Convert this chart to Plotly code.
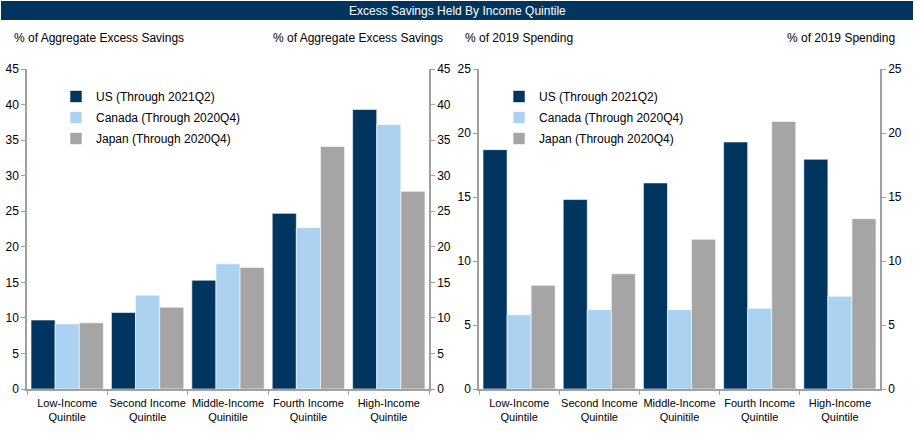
import plotly.graph_objects as go

# quintile categories (labels as printed on the chart)
categories = ['Low-Income<br>Quintile', 'Second Income<br>Quintile', 'Middle-Income<br>Quinitile',
              'Fourth Income<br>Quintile', 'High-Income<br>Quintile']

# left panel: % of aggregate excess savings
us_share = [9.7, 10.75, 15.3, 24.7, 39.3]
canada_share = [9.15, 13.2, 17.6, 22.7, 37.2]
japan_share = [9.3, 11.5, 17.1, 34.1, 27.8]

# right panel: % of 2019 spending
us_spend = [18.7, 14.8, 16.1, 19.3, 17.95]
canada_spend = [5.8, 6.2, 6.2, 6.3, 7.25]
japan_spend = [8.1, 9.0, 11.7, 20.9, 13.3]

series_names = ['US (Through 2021Q2)', 'Canada (Through 2020Q4)', 'Japan (Through 2020Q4)']
colors = ['#00355F', '#ABD2F0', '#A5A5A5']

FONT = 'Liberation Sans, Arial, sans-serif'
AXIS_COL = '#A0A0A0'

fig = go.Figure()

for name, vals, col in zip(series_names, [us_share, canada_share, japan_share], colors):
    fig.add_trace(go.Bar(x=categories, y=vals, name=name, marker_color=col,
                         marker_line=dict(color='white', width=0.6),
                         legendgroup='L' + name,
                         xaxis='x', yaxis='y', legend='legend'))

for name, vals, col in zip(series_names, [us_spend, canada_spend, japan_spend], colors):
    fig.add_trace(go.Bar(x=categories, y=vals, name=name, marker_color=col,
                         marker_line=dict(color='white', width=0.6),
                         legendgroup='R' + name,
                         xaxis='x2', yaxis='y3', legend='legend2'))

# invisible helpers so the right-hand mirror axes get drawn
fig.add_trace(go.Scatter(x=[categories[0]], y=[0], yaxis='y2', xaxis='x',
                         mode='markers', marker_opacity=0, showlegend=False, hoverinfo='skip'))
fig.add_trace(go.Scatter(x=[categories[0]], y=[0], yaxis='y4', xaxis='x2',
                         mode='markers', marker_opacity=0, showlegend=False, hoverinfo='skip'))

dom1 = [27 / 915, 429 / 915]
dom2 = [479 / 915, 880 / 915]
ydom = [1 - 389 / 435, 1 - 69 / 435]

xcommon = dict(showline=True, linecolor=AXIS_COL, linewidth=1.5, ticks='outside',
               tickson='boundaries', ticklen=4, tickcolor=AXIS_COL, showgrid=False,
               tickangle=0, automargin=False, ticklabelstandoff=3,
               tickfont=dict(size=11, color='#000000', family=FONT))
ycommon = dict(showline=True, linecolor=AXIS_COL, linewidth=1.5, ticks='outside',
               ticklen=4, tickcolor=AXIS_COL, showgrid=False, zeroline=False,
               automargin=False,
               tickfont=dict(size=12, color='#000000', family=FONT))

fig.update_layout(
    width=915, height=435,
    margin=dict(l=0, r=0, t=0, b=0),
    paper_bgcolor='white', plot_bgcolor='white',
    font=dict(family=FONT, size=12, color='#000000'),
    barmode='group', bargap=0.1, bargroupgap=0,
    xaxis=dict(domain=dom1, anchor='y', **xcommon),
    xaxis2=dict(domain=dom2, anchor='y3', **xcommon),
    yaxis=dict(domain=ydom, anchor='x', range=[0, 45], dtick=5, side='left', **ycommon),
    yaxis2=dict(domain=ydom, anchor='x', overlaying='y', range=[0, 45], dtick=5,
                side='right', **ycommon),
    yaxis3=dict(domain=ydom, anchor='x2', range=[0, 25], dtick=5, side='left', **ycommon),
    yaxis4=dict(domain=ydom, anchor='x2', overlaying='y3', range=[0, 25], dtick=5,
                side='right', **ycommon),
    legend=dict(x=0.0612, y=0.8115, xanchor='left', yanchor='top', bgcolor='rgba(0,0,0,0)',
                font=dict(size=12, family=FONT), itemwidth=30, tracegroupgap=2),
    legend2=dict(x=0.5454, y=0.8115, xanchor='left', yanchor='top', bgcolor='rgba(0,0,0,0)',
                 font=dict(size=12, family=FONT), itemwidth=30, tracegroupgap=2),
    shapes=[dict(type='rect', xref='paper', yref='paper', x0=1 / 915, x1=913 / 915,
                 y0=1 - 20 / 435, y1=1 - 1 / 435, fillcolor='#00355F', line_width=0,
                 layer='below')],
)

annotations = [
    dict(text='Excess Savings Held By Income Quintile', x=0.5, y=1 - 10.5 / 435,
         xanchor='center', yanchor='middle', font=dict(color='white', size=12)),
    dict(text='% of Aggregate Excess Savings', x=12 / 915, y=1 - 38 / 435,
         xanchor='left', yanchor='middle'),
    dict(text='% of Aggregate Excess Savings', x=445 / 915, y=1 - 38 / 435,
         xanchor='right', yanchor='middle'),
    dict(text='% of 2019 Spending', x=463 / 915, y=1 - 38 / 435,
         xanchor='left', yanchor='middle'),
    dict(text='% of 2019 Spending', x=897 / 915, y=1 - 38 / 435,
         xanchor='right', yanchor='middle'),
]
for a in annotations:
    a.update(xref='paper', yref='paper', showarrow=False)
    fig.add_annotation(**a)

# drop the default page margin so the figure sits at the window's corner
fig.write_html("out.html", config={'displayModeBar': False},
               post_script="document.body.style.margin='0';")
